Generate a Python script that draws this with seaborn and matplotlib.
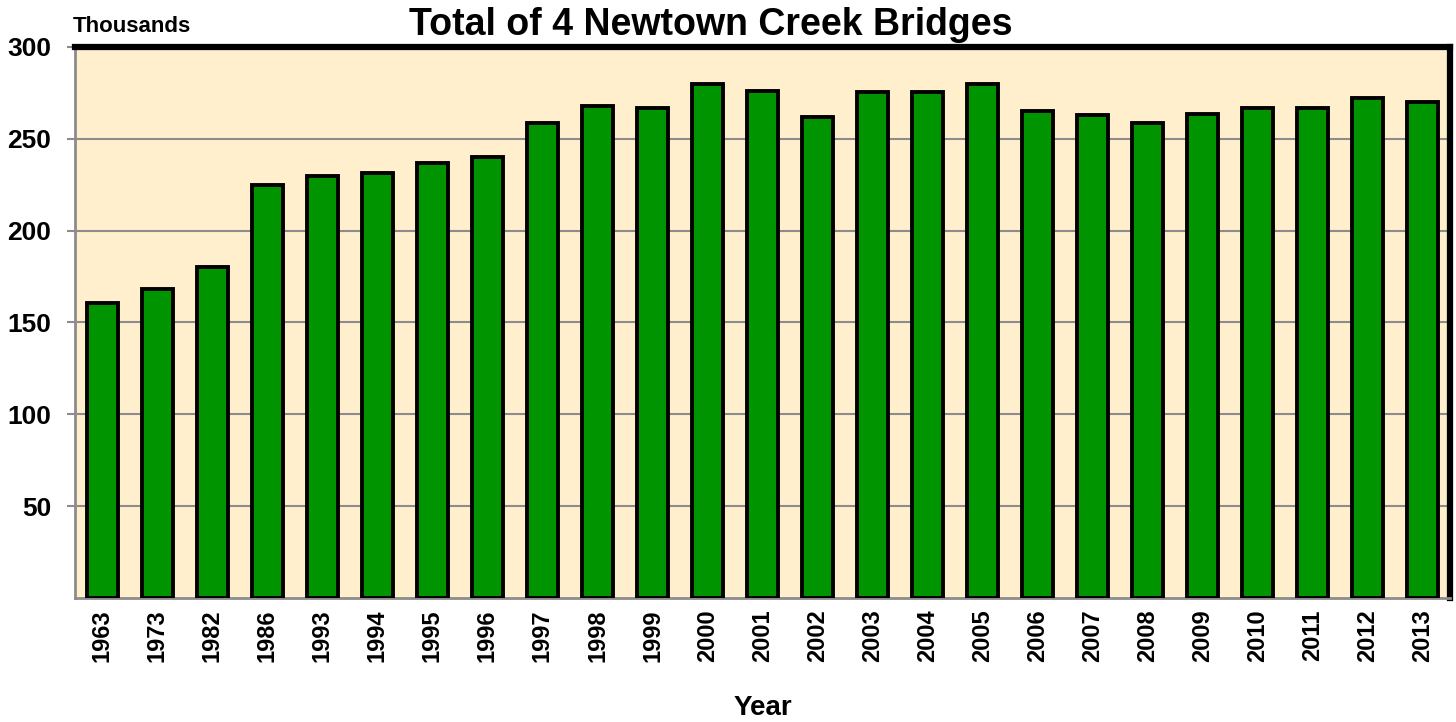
import matplotlib
matplotlib.use("Agg")
import matplotlib.pyplot as plt
import seaborn as sns
import pandas as pd

years = ["1963", "1973", "1982", "1986", "1993", "1994", "1995", "1996", "1997",
         "1998", "1999", "2000", "2001", "2002", "2003", "2004", "2005", "2006",
         "2007", "2008", "2009", "2010", "2011", "2012", "2013"]
totals = [160.5, 168, 180, 225, 230, 231.5, 237, 240, 258.5,
          268, 267, 280, 276, 262, 275.5, 275.5, 280, 265,
          263, 258.5, 263.5, 267, 267, 272, 270]
y_ticks = [50, 100, 150, 200, 250, 300]

sns.set_theme(style="white")
plt.rcParams['font.family'] = ['Liberation Sans', 'DejaVu Sans']
plt.rcParams['text.color'] = 'black'
plt.rcParams['axes.labelcolor'] = 'black'

df = pd.DataFrame({"Year": years, "Total": totals})

fig = plt.figure(figsize=(14.56, 7.22), dpi=100)
ax = fig.add_axes([0.0515, 0.1717, 0.9444, 0.7633])
ax.set_facecolor("#FFEFCC")

sns.barplot(data=df, x="Year", y="Total", color="#009400", saturation=1,
            width=0.55, edgecolor="black", linewidth=2.8, ax=ax, zorder=3)

ax.set_ylim(0, 300)
ax.set_xlim(-0.5, len(years) - 0.5)
ax.set_yticks(y_ticks)
ax.set_yticklabels([str(v) for v in y_ticks], fontsize=19, fontweight="bold")
ax.set_xticks(range(len(years)))
ax.set_xticklabels(years, rotation=90, fontsize=17, fontweight="bold")
ax.yaxis.grid(True, color="#8C8C8C", linewidth=1.5, zorder=0)
ax.set_axisbelow(True)

# x ticks between categories
ax.set_xticks([i - 0.5 for i in range(len(years) + 1)], minor=True)
ax.tick_params(axis="x", which="major", length=0, pad=8, labelcolor="black")
ax.tick_params(axis="x", which="minor", length=6, width=1.5, color="#8C8C8C", direction="out")
ax.tick_params(axis="y", length=6, width=1.5, color="#8C8C8C", direction="out", pad=11,
               labelcolor="black")
ax.tick_params(axis="both", bottom=True, left=True)

for side in ["left", "bottom"]:
    ax.spines[side].set_color("#8C8C8C")
    ax.spines[side].set_linewidth(2)
for side in ["top", "right"]:
    ax.spines[side].set_color("black")
    ax.spines[side].set_linewidth(4.5)

ax.set_xlabel("Year", fontsize=20, fontweight="bold", labelpad=24)
ax.set_ylabel("")
fig.text(0.050, 0.963, "Thousands", fontsize=16, fontweight="bold", ha="left", va="center")
fig.text(0.488, 0.966, "Total of 4 Newtown Creek Bridges", fontsize=27, fontweight="bold",
         ha="center", va="center")

fig.savefig("out.png", dpi=100)
